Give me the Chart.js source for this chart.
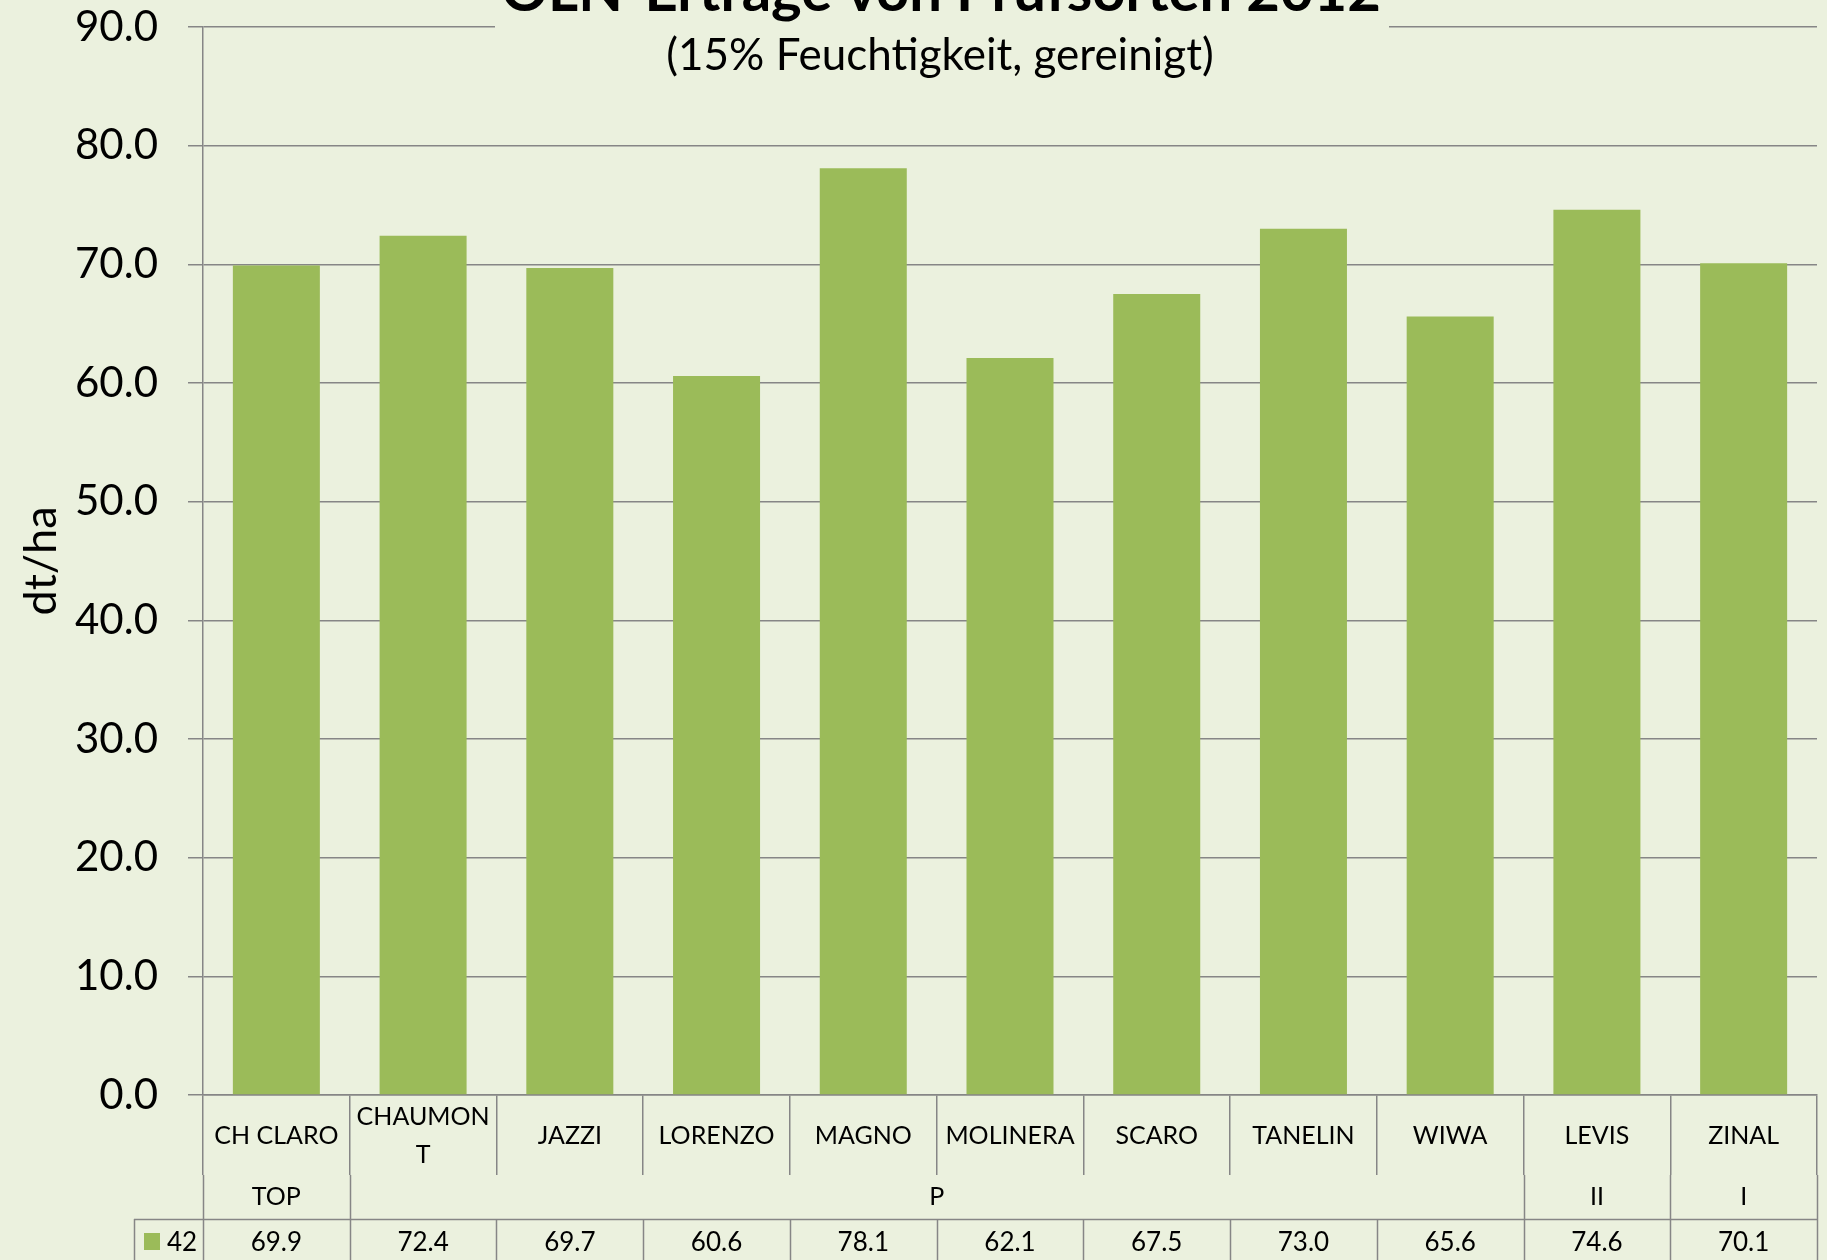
<!DOCTYPE html>
<html>
<head>
<meta charset="utf-8">
<script src="https://cdn.jsdelivr.net/npm/chart.js@4/dist/chart.umd.min.js"></script>
<style>
    body { margin: 0; background: #EBF1DE; overflow: hidden; }
    #wrap { width: 1827px; height: 1260px; }
</style>
</head>
<body>
<div id="wrap"><canvas id="yieldChart" width="1827" height="1260"></canvas></div>
<script>
// chart data
const varieties = ['CH CLARO', 'CHAUMONT', 'JAZZI', 'LORENZO', 'MAGNO', 'MOLINERA', 'SCARO', 'TANELIN', 'WIWA', 'LEVIS', 'ZINAL'];
const varietyLabels = [['CH CLARO'], ['CHAUMON', 'T'], ['JAZZI'], ['LORENZO'], ['MAGNO'], ['MOLINERA'], ['SCARO'], ['TANELIN'], ['WIWA'], ['LEVIS'], ['ZINAL']];
const yields = [69.9, 72.4, 69.7, 60.6, 78.1, 62.1, 67.5, 73.0, 65.6, 74.6, 70.1];
const groupNames = ['TOP', 'P', 'II', 'I'];
const groupSizes = [1, 8, 1, 1];
const seriesName = '42';
const chartTitle = 'ÖLN-Erträge von Prüfsorten 2012';
const chartSubtitle = '(15% Feuchtigkeit, gereinigt)';

const lineColor = '#868686';
const barColor = '#9BBB59';
const bgColor = '#EBF1DE';
const fontFamily = 'Lato, "Open Sans", sans-serif';

// title drawn by hand so it can sit partly above the canvas, like the cropped original
const titlePlugin = {
    id: 'croppedTitle',
    afterDraw(chart) {
        const ctx = chart.ctx;
        ctx.save();
        ctx.fillStyle = bgColor;
        ctx.fillRect(495, 0, 894, 38);
        ctx.fillStyle = '#000';
        ctx.textAlign = 'center';
        ctx.textBaseline = 'alphabetic';
        ctx.font = 'bold 58px ' + fontFamily;
        ctx.fillText(chartTitle, 941, 11);
        ctx.font = '44px ' + fontFamily;
        ctx.textBaseline = 'middle';
        ctx.fillText(chartSubtitle, 940, 56);
        ctx.restore();
    }
};

// data table under the x axis (group row + value row)
const tablePlugin = {
    id: 'dataTable',
    afterDraw(chart) {
        const ctx = chart.ctx;
        const x = chart.scales.x;
        const top = chart.chartArea.bottom;
        const row1 = top + 80;
        const row2 = top + 124;
        const row3 = top + 168;
        const cell = x.width / varieties.length;
        const legendLeft = 134;

        ctx.save();
        ctx.strokeStyle = lineColor;
        ctx.lineWidth = 1.5;

        // group boundaries run through the group row
        let idx = 0;
        const bounds = [0];
        groupSizes.forEach(n => { idx += n; bounds.push(idx); });
        bounds.forEach(b => {
            const px = Math.round(x.left + b * cell) + 0.5;
            ctx.beginPath();
            ctx.moveTo(px, row1);
            ctx.lineTo(px, row2);
            ctx.stroke();
        });
        // every category boundary in the value row
        for (let i = 0; i <= varieties.length; i++) {
            const px = Math.round(x.left + i * cell) + 0.5;
            ctx.beginPath();
            ctx.moveTo(px, row2);
            ctx.lineTo(px, row3);
            ctx.stroke();
        }
        ctx.beginPath();
        ctx.moveTo(legendLeft + 0.5, row2);
        ctx.lineTo(legendLeft + 0.5, row3);
        ctx.moveTo(legendLeft, row2 + 0.5);
        ctx.lineTo(x.right, row2 + 0.5);
        ctx.moveTo(legendLeft, row3 + 0.5);
        ctx.lineTo(x.right, row3 + 0.5);
        ctx.stroke();

        ctx.fillStyle = '#000';
        ctx.textAlign = 'center';
        ctx.textBaseline = 'middle';
        ctx.font = '25px ' + fontFamily;
        idx = 0;
        groupNames.forEach((g, k) => {
            const mid = x.left + (idx + groupSizes[k] / 2) * cell;
            ctx.fillText(g, mid, (row1 + row2) / 2);
            idx += groupSizes[k];
        });
        ctx.font = '26px ' + fontFamily;
        yields.forEach((v, i) => {
            ctx.fillText(v.toFixed(1), x.getPixelForValue(i), (row2 + row3) / 2 + 2);
        });

        // legend key
        ctx.fillStyle = barColor;
        ctx.fillRect(144, row2 + 14, 16, 17);
        ctx.fillStyle = '#000';
        ctx.textAlign = 'left';
        ctx.fillText(seriesName, 167, (row2 + row3) / 2 + 2);
        ctx.restore();
    }
};

const ctx = document.getElementById('yieldChart').getContext('2d');
const yieldChart = new Chart(ctx, {
    type: 'bar',
    data: {
        labels: varietyLabels,
        datasets: [{
            label: seriesName,
            data: yields,
            backgroundColor: barColor,
            barPercentage: 0.593,
            categoryPercentage: 1.0
        }]
    },
    options: {
        responsive: false,
        animation: false,
        layout: {
            padding: { top: 0, right: 10, left: 0, bottom: 0 }
        },
        plugins: {
            legend: { display: false },
            tooltip: { enabled: false },
            title: { display: false }
        },
        scales: {
            y: {
                min: 0,
                max: 90,
                afterFit: (scale) => {
                    scale.width = 203;
                    scale.paddingTop = 27;
                    scale.paddingBottom = 0;
                },
                ticks: {
                    stepSize: 10,
                    padding: 30,
                    color: '#000',
                    font: { family: fontFamily, size: 42 },
                    callback: (value) => value.toFixed(1)
                },
                grid: {
                    color: lineColor,
                    lineWidth: 1.5,
                    tickLength: 15
                },
                border: { color: lineColor, width: 1.5 },
                title: {
                    display: true,
                    text: 'dt/ha',
                    color: '#000',
                    font: { family: fontFamily, size: 45 },
                    padding: { top: 14, bottom: 0 }
                }
            },
            x: {
                afterFit: (scale) => { scale.height = 165; },
                grid: {
                    offset: true,
                    drawOnChartArea: false,
                    color: lineColor,
                    lineWidth: 1.5,
                    tickLength: 80
                },
                border: { color: lineColor, width: 1.5 },
                ticks: {
                    color: '#000',
                    crossAlign: 'center',
                    padding: -58,
                    maxRotation: 0,
                    autoSkip: false,
                    font: { family: fontFamily, size: 25, lineHeight: 1.5 }
                }
            }
        }
    },
    plugins: [titlePlugin, tablePlugin]
});
</script>
</body>
</html>
